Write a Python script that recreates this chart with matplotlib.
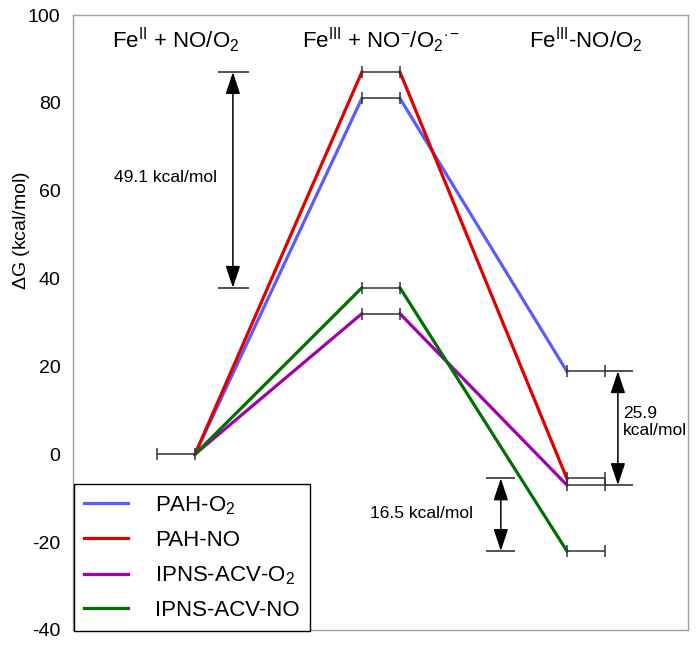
import numpy as np
from matplotlib import pyplot as plt

plt.rcParams['font.family'] = ['Liberation Sans', 'DejaVu Sans']
plt.rcParams['mathtext.fontset'] = 'custom'
plt.rcParams['mathtext.rm'] = 'Liberation Sans'
plt.rcParams['mathtext.it'] = 'Liberation Sans:italic'
plt.rcParams['mathtext.bf'] = 'Liberation Sans:bold'
plt.rcParams['axes.unicode_minus'] = False

# reaction states (left to right)
states = [r'Fe$^{\rm II}$ + NO/O$_2$',
          r'Fe$^{\rm III}$ + NO$^{-}$/O$_2{}^{\cdot-}$',
          r'Fe$^{\rm III}$-NO/O$_2$']
series = ['PAH-O$_2$', 'PAH-NO', 'IPNS-ACV-O$_2$', 'IPNS-ACV-NO']
colors = ['#5B5BFF', '#E00000', '#A000B0', '#007000']
start = [0, 0, 0, 0]
ts = [81, 87, 32, 37.9]
final = [18.9, -5.5, -7, -22]
gaps = ['49.1 kcal/mol', '25.9\nkcal/mol', '16.5 kcal/mol']

w = 0.093  # half width of a level bar
fig = plt.figure(figsize=(6.96, 6.45), dpi=100)
ax = fig.add_axes([73/696, 15/645, 615/696, 615/645])

# colored paths between levels
for i in range(len(series)):
    xs = [0 + w, 1 - w, 1 + w, 2 - w]
    ys = [start[i], ts[i], ts[i], final[i]]
    ax.plot(xs[:2], ys[:2], color=colors[i], lw=2.3, zorder=2, label=series[i])
    ax.plot(xs[2:], ys[2:], color=colors[i], lw=2.3, zorder=2)

# energy levels with end caps
levels_x = [0] + [1]*4 + [2]*4
levels_y = [start[0]] + ts + final
ax.errorbar(levels_x, levels_y, xerr=w, fmt='none', ecolor='#333333',
            elinewidth=1.1, capsize=4, capthick=1.1, zorder=3)

# gap markers
def gap(x, y1, y2, c0, c1):
    ax.hlines([y1, y2], c0, c1, color='#222222', lw=1.1, zorder=3)
    ax.annotate('', xy=(x, y2), xytext=(x, y1),
                arrowprops=dict(arrowstyle='<|-|>,head_length=0.75,head_width=0.25',
                                color='black', lw=1.1, shrinkA=0, shrinkB=0,
                                mutation_scale=18), zorder=4)

gap(0.278, ts[1], ts[3], 0.205, 0.356)
ax.text(-0.05, (ts[1] + ts[3]) / 2 + 0.5, gaps[0], fontsize=12.5, ha='center', va='center')
gap(2.156, final[0], final[2], 2.0 + w, 2.229)
ax.text(2.18, 7.3, gaps[1], fontsize=12.5, ha='left', va='center', linespacing=1.2)
gap(1.585, final[1], final[3], 1.515, 1.655)
ax.text(1.2, -13.4, gaps[2], fontsize=12.5, ha='center', va='center')

for k in range(3):
    ax.text(k, 94.2, states[k], fontsize=16, ha='center', va='center')

ax.set_xlim(-0.502, 2.498)
ax.set_ylim(-40, 100)
ax.set_xticks([])
ax.set_yticks(np.arange(-40, 101, 20))
ax.tick_params(axis='y', length=0, pad=9, labelsize=14)
for s in ax.spines.values():
    s.set_color('#A0A0A0')
    s.set_linewidth(1)
ax.set_ylabel(r'$\Delta$G (kcal/mol)', fontsize=14)
ax.yaxis.set_label_coords(-0.066, 0.65)

leg = ax.legend(loc='lower left', bbox_to_anchor=(0.0015, -0.002), borderaxespad=0,
                fontsize=16, handlelength=2.0, handletextpad=1.2, borderpad=0.45,
                labelspacing=0.6, fancybox=False, edgecolor='black', framealpha=1)
leg.get_frame().set_linewidth(1)
leg.set_zorder(5)

plt.savefig('out.png', dpi=100)
